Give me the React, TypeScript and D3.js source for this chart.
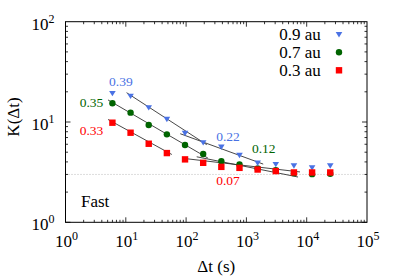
import { useEffect, useRef } from "react";
import * as d3 from "d3";

// lag times (s)
const times = [6, 12, 24, 48, 96, 192, 384, 768, 1536, 3072, 6144, 12288, 24576];

// K(Δt) per radial distance
const k09 = [19.4, 18.2, 14.0, 10.7, 7.76, 6.27, 5.66, 4.68, 3.92, 3.8, 3.69, 3.52, 3.69];
const k07 = [15.4, 12.4, 9.33, 7.53, 5.89, 4.79, 4.07, 3.78, 3.44, 3.31, 3.09, 3.02, 3.05];
const k03 = [9.84, 7.82, 6.07, 4.9, 4.24, 3.92, 3.57, 3.49, 3.36, 3.24, 3.14, 3.14, 3.14];

const seriesNames = ["0.9 au", "0.7 au", "0.3 au"];
const seriesValues = [k09, k07, k03];
const seriesColors = ["#4a72e4", "#006400", "#ff0000"];
const seriesShapes = ["triangle", "circle", "square"];

// power-law fits: k = k0 * (t / from)^-exponent on [from, to]
const fits = [
  { series: 0, exponent: 0.39, from: 10.3, to: 220, k0: 19.6 },
  { series: 0, exponent: 0.22, from: 80, to: 1900, k0: 7.64 },
  { series: 1, exponent: 0.35, from: 5.07, to: 230, k0: 16.6 },
  { series: 1, exponent: 0.12, from: 150, to: 7180, k0: 4.5 },
  { series: 2, exponent: 0.33, from: 5.07, to: 58, k0: 10.6 },
  { series: 2, exponent: 0.07, from: 90, to: 7740, k0: 4.34 },
];

// exponent annotations (anchor in data coords)
const fitLabels = [
  { text: "0.39", series: 0, t: 8.3, k: 22.9, anchor: "middle" },
  { text: "0.22", series: 0, t: 495, k: 6.51, anchor: "middle" },
  { text: "0.35", series: 1, t: 4.24, k: 14.2, anchor: "end" },
  { text: "0.12", series: 1, t: 1936, k: 4.94, anchor: "middle" },
  { text: "0.33", series: 2, t: 4.24, k: 7.42, anchor: "end" },
  { text: "0.07", series: 2, t: 495, k: 2.35, anchor: "middle" },
];

const xTickExps = [0, 1, 2, 3, 4, 5];
const yTickExps = [0, 1, 2];
const fastLevel = 3;

const font =
  '"Liberation Serif", "Times New Roman", Times, "Nimbus Roman", FreeSerif, "DejaVu Serif", Tinos, serif';

export default function App() {
  const ref = useRef<SVGSVGElement | null>(null);

  useEffect(() => {
    const width = 399;
    const height = 279;
    const margin = { top: 21.7, right: 32, bottom: 56.7, left: 65.5 };

    const svg = d3.select(ref.current);
    svg.selectAll("*").remove();

    const x = d3
      .scaleLog()
      .domain([1, 1e5])
      .range([margin.left, width - margin.right]);
    const y = d3
      .scaleLog()
      .domain([1, 100])
      .range([height - margin.bottom, margin.top]);

    const [x0, x1] = x.range();
    const [y0, y1] = y.range();

    // reference level
    svg
      .append("line")
      .attr("x1", x0)
      .attr("x2", x1)
      .attr("y1", y(fastLevel))
      .attr("y2", y(fastLevel))
      .attr("stroke", "#aaa")
      .attr("stroke-width", 0.8)
      .attr("stroke-dasharray", "1,2");

    // ticks (mirrored on all four sides)
    const ticks = svg.append("g").attr("stroke", "#000").attr("stroke-width", 0.8);
    for (let e = 0; e < 5; e++) {
      for (let m = 1; m < 10; m++) {
        const v = m * Math.pow(10, e);
        const len = m === 1 ? 5 : 2.5;
        const px = x(v);
        ticks.append("line").attr("x1", px).attr("x2", px).attr("y1", y0).attr("y2", y0 - len);
        ticks.append("line").attr("x1", px).attr("x2", px).attr("y1", y1).attr("y2", y1 + len);
      }
    }
    for (let e = 0; e < 2; e++) {
      for (let m = 1; m < 10; m++) {
        const v = m * Math.pow(10, e);
        const len = m === 1 ? 5 : 2.5;
        const py = y(v);
        ticks.append("line").attr("x1", x0).attr("x2", x0 + len).attr("y1", py).attr("y2", py);
        ticks.append("line").attr("x1", x1).attr("x2", x1 - len).attr("y1", py).attr("y2", py);
      }
    }

    // fit lines
    const line = d3
      .line<[number, number]>()
      .x((d) => x(d[0]))
      .y((d) => y(d[1]));
    fits.forEach((f) => {
      const pts: [number, number][] = [f.from, f.to].map(
        (t) => [t, f.k0 * Math.pow(t / f.from, -f.exponent)] as [number, number]
      );
      svg
        .append("path")
        .datum(pts)
        .attr("fill", "none")
        .attr("stroke", "#333")
        .attr("stroke-width", 0.9)
        .attr("d", line);
    });

    const drawMarker = (
      g: d3.Selection<SVGGElement, unknown, null, undefined>,
      shape: string,
      color: string,
      cx: number,
      cy: number
    ) => {
      if (shape === "circle") {
        g.append("circle").attr("cx", cx).attr("cy", cy).attr("r", 3.2).attr("fill", color);
      } else if (shape === "square") {
        g.append("rect")
          .attr("x", cx - 3.2)
          .attr("y", cy - 3.2)
          .attr("width", 6.4)
          .attr("height", 6.4)
          .attr("fill", color);
      } else {
        g.append("path")
          .attr("d", `M${cx - 3.3},${cy - 2.2}L${cx + 3.3},${cy - 2.2}L${cx},${cy + 3.2}Z`)
          .attr("fill", color);
      }
    };

    // points (0.3 drawn last, on top)
    const pts = svg.append("g") as d3.Selection<SVGGElement, unknown, null, undefined>;
    [1, 0, 2].forEach((s) => {
      seriesValues[s].forEach((v, i) => {
        drawMarker(pts, seriesShapes[s], seriesColors[s], x(times[i]), y(v));
      });
    });

    // frame
    svg
      .append("rect")
      .attr("x", x0)
      .attr("y", y1)
      .attr("width", x1 - x0)
      .attr("height", y0 - y1)
      .attr("fill", "none")
      .attr("stroke", "#000")
      .attr("stroke-width", 1);

    // tick labels
    const power = (px: number, py: number, e: number, anchor: string) => {
      const t = svg
        .append("text")
        .attr("x", px)
        .attr("y", py)
        .attr("text-anchor", anchor)
        .attr("font-size", 17)
        .attr("fill", "#000");
      t.append("tspan").text("10");
      t.append("tspan").attr("dy", -7).attr("font-size", 12).text(String(e));
    };
    xTickExps.forEach((e) => power(x(Math.pow(10, e)) + 1, 247.3, e, "middle"));
    yTickExps.forEach((e) => power(x0 - 11, y(Math.pow(10, e)) + 8, e, "end"));

    // axis titles
    svg
      .append("text")
      .attr("x", (x0 + x1) / 2)
      .attr("y", 271.5)
      .attr("text-anchor", "middle")
      .attr("font-size", 17)
      .text("Δt (s)");
    svg
      .append("text")
      .attr("transform", `translate(19,${(y0 + y1) / 2 - 5}) rotate(-90)`)
      .attr("text-anchor", "middle")
      .attr("font-size", 17)
      .text("K(Δt)");

    // exponent labels
    fitLabels.forEach((l) => {
      svg
        .append("text")
        .attr("x", x(l.t))
        .attr("y", y(l.k))
        .attr("text-anchor", l.anchor)
        .attr("font-size", 13.5)
        .attr("fill", seriesColors[l.series])
        .text(l.text);
    });

    svg
      .append("text")
      .attr("x", 81)
      .attr("y", 207.3)
      .attr("font-size", 17)
      .text("Fast");

    // legend
    const legend = svg.append("g") as d3.Selection<SVGGElement, unknown, null, undefined>;
    seriesNames.forEach((name, i) => {
      const base = 40 + i * 18;
      legend
        .append("text")
        .attr("x", 320.7)
        .attr("y", base)
        .attr("text-anchor", "end")
        .attr("font-size", 17)
        .text(name);
      drawMarker(legend, seriesShapes[i], seriesColors[i], 339, base - 5.7);
    });
  }, []);

  return (
    <svg
      ref={ref}
      width={399}
      height={279}
      style={{ position: "absolute", left: 0, top: 0, background: "#fff", fontFamily: font }}
    />
  );
}
